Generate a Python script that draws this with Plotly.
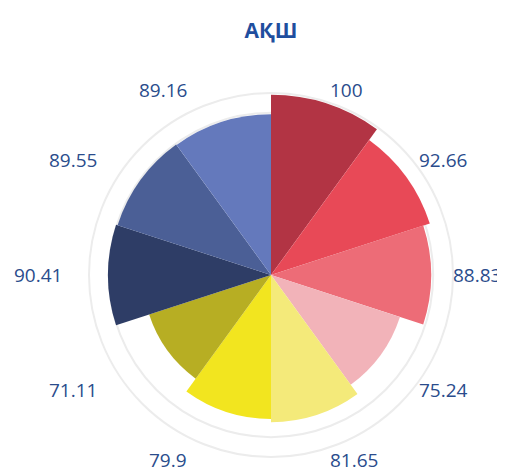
import math
import plotly.graph_objects as go

title_text = "АҚШ"
values = [100, 92.66, 88.83, 75.24, 81.65, 79.9, 71.11, 90.41, 89.55, 89.16]
labels = ["100", "92.66", "88.83", "75.24", "81.65", "79.9", "71.11", "90.41", "89.55", "89.16"]
colors = ["#B23444", "#E84957", "#ED6C77", "#F2B3B9", "#F4EA7A", "#F2E51F",
          "#B7AE23", "#2E3D66", "#4B5F96", "#6479BC"]

n = len(values)
step = 360 / n
thetas = [i * step + step / 2 for i in range(n)]

# page body has an 8px margin; positions are compensated for it
OFF = 8
W, H = 505, 473
cx = 271 - OFF                  # polar centre, px from figure left
cy = H - (275 - OFF)            # polar centre, px from figure bottom
R = 182                         # px radius of the polar frame
rmax = 101

fig = go.Figure()
fig.add_trace(go.Barpolar(
    r=values, theta=thetas, width=[step] * n,
    marker=dict(color=colors, line=dict(width=0)),
    hoverinfo="r",
))

annotations = []
for th, lab in zip(thetas, labels):
    s, c = math.sin(math.radians(th)), math.cos(math.radians(th))
    if s > 0:
        px = cx + 178 * s + 2
        anchor = "left"
    else:
        px = cx + 181 * s - 26
        anchor = "right"
    py = cy + 195 * c
    annotations.append(dict(
        x=px / W, y=py / H, xref="paper", yref="paper", text=lab,
        showarrow=False, xanchor=anchor, yanchor="middle",
        font=dict(family="Open Sans", size=19, color="#2A4C8C"),
    ))

fig.update_layout(
    width=W, height=H,
    margin=dict(l=0, r=0, t=0, b=0),
    paper_bgcolor="white",
    showlegend=False,
    title=dict(text=f"<b>{title_text}</b>", x=cx / W, xanchor="center", y=1 - (31 - OFF) / H,
               yanchor="middle", font=dict(family="Open Sans", size=21, color="#1F4E9E")),
    annotations=annotations,
    polar=dict(
        domain=dict(x=[(cx - R) / W, (cx + R) / W], y=[(cy - R) / H, (cy + R) / H]),
        bgcolor="white",
        radialaxis=dict(range=[0, rmax], tickvals=[90], showticklabels=False, ticks="",
                        showline=False, gridcolor="#ECECEC", gridwidth=2, layer="below traces"),
        angularaxis=dict(direction="clockwise", rotation=90, showticklabels=False, ticks="",
                         showgrid=False, showline=True, linecolor="#ECECEC", linewidth=2,
                         layer="below traces"),
    ),
)

fig.write_html("out.html")
